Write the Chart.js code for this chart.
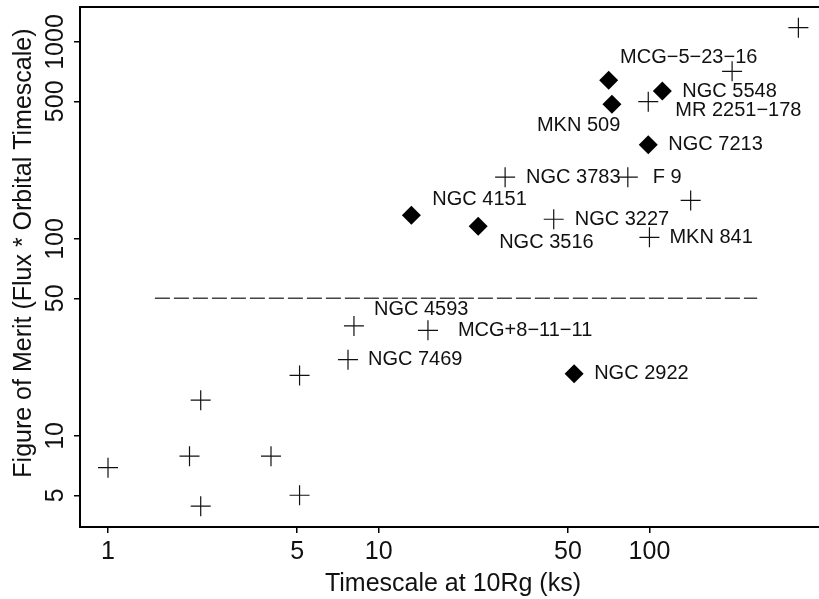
<!DOCTYPE html>
<html>
<head>
<meta charset="utf-8">
<script src="https://cdn.jsdelivr.net/npm/chart.js@4.4.1/dist/chart.umd.min.js"></script>
<style>
  html, body { margin: 0; padding: 0; background: #fff; overflow: hidden; }
  #wrap { position: relative; width: 819px; height: 599px; }
</style>
</head>
<body>
<div id="wrap"><canvas id="chart"></canvas></div>
<script>
// ================= data =================
// plus markers (open crosses)
const plusNames = ["", "", "", "", "", "", "", "NGC 7469", "NGC 4593", "MCG+8\u221211\u221211",
  "NGC 3783", "NGC 3227", "F 9", "MKN 841", "MR 2251\u2212178", "", "MCG\u22125\u221223\u221216", ""];
const plusX = [1.0, 2.0, 2.2, 2.2, 4.0, 5.1, 5.1, 7.7, 8.1, 15.2, 29.3, 44.3, 83.2, 100, 99, 142, 202, 355];
const plusY = [6.9, 7.9, 15.2, 4.4, 7.9, 5.0, 20.3, 24.4, 36.2, 34.4, 206, 126, 206, 102, 498, 157, 710, 1183];

// filled diamonds
const diamondNames = ["NGC 4151", "NGC 3516", "NGC 2922", "", "MKN 509", "NGC 7213", "NGC 5548"];
const diamondX = [13.2, 23.3, 52.7, 70.7, 72.7, 99, 111.6];
const diamondY = [132, 116, 20.7, 639, 483, 301, 564];

// dashed reference level
const refX = [1.49, 250];
const refLevel = 50;

const xTicks = [1, 5, 10, 50, 100];
const yTicks = [5, 10, 50, 100, 500, 1000];

// where each name sits relative to its marker [dx, dy] (text left edge, text middle)
const plusLabelPos = [null, null, null, null, null, null, null, [20, 0], [20, -16], [30, 0],
  [21, 0], [21, 0], [25, 0], [20, 0], [27, 9], null, [-112, -14], null];
const diamondLabelPos = [[21, -16], [21, 16], [20, 0], null, [-75, 21], [20, 0], [20, 0]];

const FONT = "'Liberation Sans', Arial, sans-serif";

// ================= plugins =================
const pointNames = {
  id: "pointNames",
  afterDatasetsDraw(chart) {
    const ctx = chart.ctx;
    const sets = [[0, plusNames, plusLabelPos], [1, diamondNames, diamondLabelPos]];
    ctx.save();
    ctx.font = "20px " + FONT;
    ctx.fillStyle = "#111";
    ctx.textAlign = "left";
    ctx.textBaseline = "middle";
    sets.forEach(([idx, names, pos]) => {
      const meta = chart.getDatasetMeta(idx);
      meta.data.forEach((pt, i) => {
        if (!names[i] || !pos[i]) return;
        ctx.fillText(names[i], pt.x + pos[i][0], pt.y + pos[i][1]);
      });
    });
    ctx.restore();
  }
};

// top frame line (right side of the box is off the picture)
const topLine = {
  id: "topLine",
  afterDraw(chart) {
    const { ctx, chartArea } = chart;
    ctx.save();
    ctx.strokeStyle = "#000";
    ctx.lineWidth = 2;
    ctx.beginPath();
    ctx.moveTo(chartArea.left - 1, chartArea.top);
    ctx.lineTo(chartArea.right, chartArea.top);
    ctx.stroke();
    ctx.restore();
  }
};

// ================= chart =================
new Chart(document.getElementById("chart"), {
  type: "scatter",
  data: {
    datasets: [
      {
        data: plusX.map((x, i) => ({ x, y: plusY[i] })),
        pointStyle: "cross",
        pointRadius: 10,
        borderColor: "#111",
        borderWidth: 1.2,
        clip: false
      },
      {
        data: diamondX.map((x, i) => ({ x, y: diamondY[i] })),
        pointStyle: "rectRot",
        pointRadius: 9.5,
        backgroundColor: "#000",
        borderColor: "#000",
        borderWidth: 0,
        clip: false
      },
      {
        data: refX.map(x => ({ x, y: refLevel })),
        showLine: true,
        pointRadius: 0,
        borderColor: "#444",
        borderWidth: 1.5,
        borderDash: [15, 4]
      }
    ]
  },
  options: {
    responsive: true,
    maintainAspectRatio: false,
    animation: false,
    events: [],
    layout: { autoPadding: false, padding: { top: 7, right: 0, left: 0, bottom: 0 } },
    plugins: { legend: { display: false }, tooltip: { enabled: false } },
    scales: {
      x: {
        type: "logarithmic",
        min: 0.788,
        max: 423,
        afterBuildTicks: s => { s.ticks = xTicks.map(v => ({ value: v })); },
        afterFit: s => { s.height = 72; s.paddingLeft = 0; s.paddingRight = 0; },
        grid: { drawOnChartArea: false, drawTicks: true, tickLength: 6, color: "#000", lineWidth: 1.5 },
        border: { display: true, color: "#000", width: 2 },
        ticks: {
          color: "#111",
          font: { family: FONT, size: 25 },
          padding: 4,
          maxRotation: 0,
          autoSkip: false,
          callback: v => String(v)
        },
        title: {
          display: true,
          text: " Timescale at 10Rg (ks)",
          color: "#111",
          font: { family: FONT, size: 25, lineHeight: 1.2 },
          padding: { top: 0, bottom: 0 }
        }
      },
      y: {
        type: "logarithmic",
        min: 3.45,
        max: 1506,
        afterBuildTicks: s => { s.ticks = yTicks.map(v => ({ value: v })); },
        afterFit: s => { s.width = 80; s.paddingTop = 0; s.paddingBottom = 0; },
        grid: { drawOnChartArea: false, drawTicks: true, tickLength: 6, color: "#000", lineWidth: 1.5 },
        border: { display: true, color: "#000", width: 2 },
        ticks: {
          color: "#111",
          font: { family: FONT, size: 25 },
          minRotation: 90,
          maxRotation: 90,
          crossAlign: "center",
          padding: -10,
          autoSkip: false,
          callback: v => String(v)
        },
        title: {
          display: true,
          // leading spaces nudge the title up a little, as in the original
          text: "    Figure of Merit (Flux * Orbital Timescale)",
          color: "#111",
          font: { family: FONT, size: 25, lineHeight: 1.2 },
          padding: { top: 9, bottom: 0 }
        }
      }
    }
  },
  plugins: [pointNames, topLine]
});
</script>
</body>
</html>
